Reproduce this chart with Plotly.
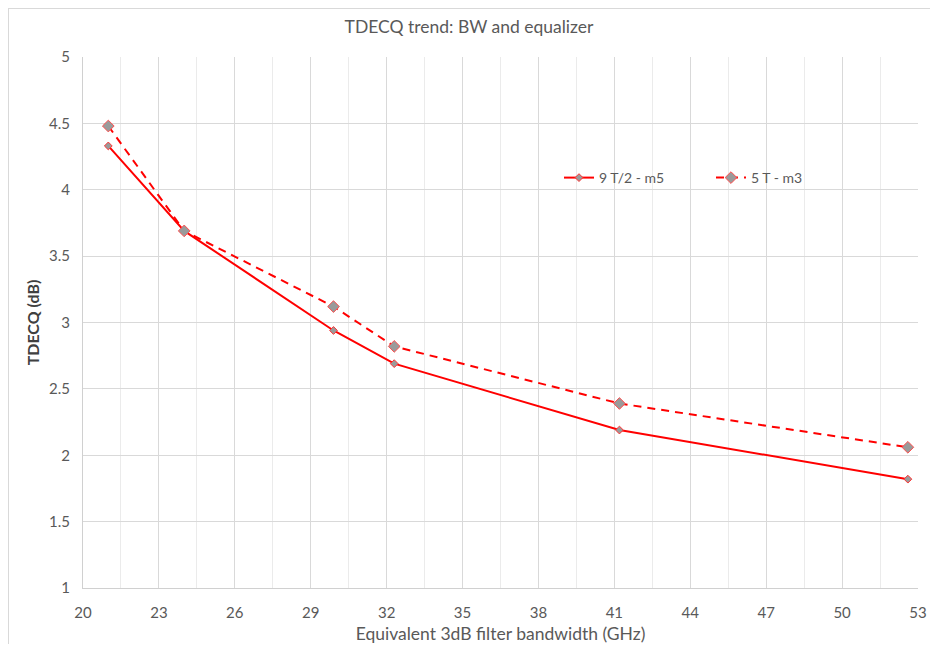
import plotly.graph_objects as go

bw_m5 = [21.0, 24.0, 29.9, 32.3, 41.2, 52.6]
tdecq_m5 = [4.33, 3.69, 2.94, 2.69, 2.19, 1.82]
bw_m3 = [21.0, 24.0, 29.9, 32.3, 41.2, 52.6]
tdecq_m3 = [4.48, 3.69, 3.12, 2.82, 2.39, 2.06]
x_ticks = [20, 23, 26, 29, 32, 35, 38, 41, 44, 47, 50, 53]
y_ticks = [1, 1.5, 2, 2.5, 3, 3.5, 4, 4.5, 5]

font = "Lato"
W, H = 922, 636
L, R, T, B = 75, 12, 49, 56
PW, PH = W - L - R, H - T - B

fig = go.Figure()
fig.add_trace(go.Scatter(
    x=bw_m5, y=tdecq_m5, name="9 T/2 - m5", mode="lines+markers",
    line=dict(color="#ff0000", width=2),
    marker=dict(symbol="diamond", size=6, color="#9a9a9a", line=dict(color="#ff3333", width=1)),
))
fig.add_trace(go.Scatter(
    x=bw_m3, y=tdecq_m3, name="5 T - m3", mode="lines+markers",
    line=dict(color="#ff0000", width=2, dash="8px,6px"),
    marker=dict(symbol="diamond", size=9, color="#9a9a9a", line=dict(color="#ff5050", width=1)),
))

fig.update_layout(
    width=W, height=H,
    margin=dict(l=L, r=R, t=T, b=B, autoexpand=False),
    paper_bgcolor="white", plot_bgcolor="white",
    title=dict(text="TDECQ trend: BW and equalizer", x=0.5, xanchor="center",
               y=1 - 19 / H, yanchor="middle",
               font=dict(family=font, size=17.5, color="#595959")),
    font=dict(family=font, color="#595959"),
    legend=dict(orientation="h", x=(551 - L) / PW, y=1 - (170 - T) / PH,
                xanchor="left", yanchor="middle",
                bgcolor="rgba(0,0,0,0)", font=dict(size=14, color="#595959"),
                entrywidth=107, entrywidthmode="pixels"),
    xaxis=dict(range=[20, 53], tickvals=x_ticks, ticktext=[str(v) for v in x_ticks],
               automargin=False,
               showgrid=True, gridcolor="#d9d9d9", gridwidth=1,
               minor=dict(dtick=1.5, tick0=20, showgrid=True, gridcolor="#ebebeb", gridwidth=1),
               showline=True, linecolor="#d0d0d0", linewidth=1, zeroline=False,
               tickfont=dict(size=15, color="#595959"), ticks="", ticklabelstandoff=11,
               title=dict(text="Equivalent 3dB filter bandwidth (GHz)",
                          font=dict(size=17.5, color="#595959"), standoff=8)),
    yaxis=dict(range=[1, 5], tickvals=y_ticks, ticktext=[f"{v:g}" for v in y_ticks],
               automargin=False,
               showgrid=True, gridcolor="#d9d9d9", gridwidth=1,
               showline=True, linecolor="#d0d0d0", linewidth=1, zeroline=False,
               tickfont=dict(size=15, color="#595959"), ticks="", ticklabelstandoff=9,
               title=dict(text="<b>TDECQ (dB)</b>", font=dict(size=16, color="#404040"), standoff=5)),
)
# outer frame (left and top edges visible in the reference crop)
fig.add_shape(type="line", xref="paper", yref="paper",
              x0=(0.5 - L) / PW, x1=(0.5 - L) / PW, y0=-B / PH, y1=1 + T / PH,
              line=dict(color="#d9d9d9", width=1), layer="below")
fig.add_shape(type="line", xref="paper", yref="paper",
              x0=(0.5 - L) / PW, x1=(W - L) / PW, y0=1 + (T - 0.5) / PH, y1=1 + (T - 0.5) / PH,
              line=dict(color="#d9d9d9", width=1), layer="below")
fig.write_html("out.html")
